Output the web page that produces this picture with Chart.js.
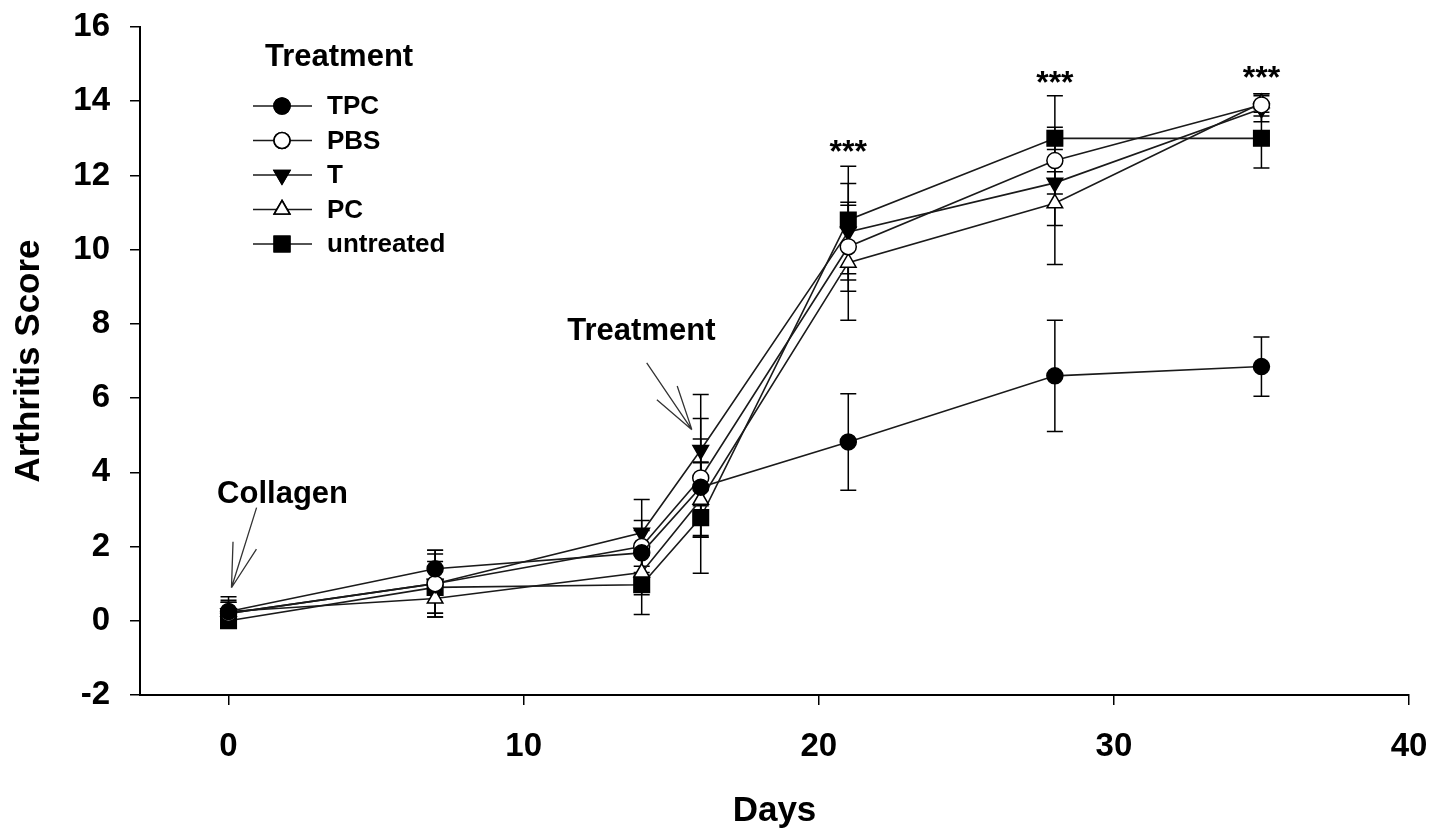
<!DOCTYPE html>
<html>
<head>
<meta charset="utf-8">
<script src="https://cdn.jsdelivr.net/npm/chart.js@4.4.0/dist/chart.umd.min.js"></script>
<style>
  html, body { margin: 0; padding: 0; background: #fff; }
  #wrap { width: 1445px; height: 832px; }
</style>
</head>
<body>
<div id="wrap"><canvas id="graphique"></canvas></div>
<script>
// ---- data ----
const days = [0, 7, 14, 16, 21, 28, 35];

const tpc       = [0.25, 1.4, 1.83, 3.6, 4.82, 6.6, 6.85];
const pbs       = [0.2, 1.0, 2.0, 3.85, 10.08, 12.4, 13.9];
const t         = [0.2, 1.0, 2.37, 4.6, 10.48, 11.8, 13.8];
const pc        = [0.25, 0.6, 1.3, 3.26, 9.65, 11.25, 13.95];
const untreated = [0.0, 0.9, 0.97, 2.78, 10.8, 13.0, 13.0];

// error bars (+/-)
const tpcErr       = [0.3, 0.5, 0.6, 1.3, 1.3, 1.5, 0.8];
const pbsErr       = [0.3, 0.8, 0.7, 1.6, 1.2, 1.75, 0.3];
const tErr         = [0.3, 0.9, 0.9, 1.5, 1.3, 0.3, 0.35];
const pcErr        = [0.4, 0.5, 0.6, 1.0, 1.55, 1.65, 0.25];
const untreatedErr = [0.2, 0.7, 0.8, 1.5, 1.45, 0.3, 0.8];

const yTicks = [-2, 0, 2, 4, 6, 8, 10, 12, 14, 16];
const xTicks = [0, 10, 20, 30, 40];

const starDays = [21, 28, 35];
const starY    = [12.6, 14.45, 14.6];

const FONT = "'Liberation Sans', Arial, sans-serif";

function pts(vals) {
  return days.map((d, i) => ({ x: d, y: vals[i] }));
}

function makeSet(label, vals, err, style, fill, radius, rotation) {
  return {
    label: label,
    data: pts(vals),
    err: err,
    borderColor: "#1a1a1a",
    borderWidth: 1.6,
    pointStyle: style,
    pointRotation: rotation || 0,
    pointRadius: radius,
    pointBackgroundColor: fill,
    pointBorderColor: "#000",
    pointBorderWidth: 1.5,
    tension: 0,
    fill: false
  };
}

// ---- error bars, drawn under the markers ----
const errorBars = {
  id: "errorBars",
  beforeDatasetsDraw(chart) {
    const ctx = chart.ctx;
    const ys = chart.scales.y;
    ctx.save();
    ctx.strokeStyle = "#000";
    ctx.lineWidth = 1.5;
    chart.data.datasets.forEach((ds, di) => {
      const meta = chart.getDatasetMeta(di);
      meta.data.forEach((p, i) => {
        const v = ds.data[i].y, e = ds.err[i];
        const y1 = ys.getPixelForValue(v + e);
        const y2 = ys.getPixelForValue(v - e);
        ctx.beginPath();
        ctx.moveTo(p.x, y1); ctx.lineTo(p.x, y2);
        ctx.moveTo(p.x - 8, y1); ctx.lineTo(p.x + 8, y1);
        ctx.moveTo(p.x - 8, y2); ctx.lineTo(p.x + 8, y2);
        ctx.stroke();
      });
    });
    ctx.restore();
  }
};

// ---- legend box with line + marker ----
const legendBox = {
  id: "legendBox",
  afterDraw(chart) {
    const ctx = chart.ctx;
    ctx.save();
    ctx.fillStyle = "#000";
    ctx.font = "bold 31px " + FONT;
    ctx.textBaseline = "middle";
    ctx.fillText("Treatment", 265, 57);
    ctx.font = "bold 26px " + FONT;
    chart.data.datasets.forEach((ds, i) => {
      const y = 106 + i * 34.5;
      ctx.strokeStyle = "#1a1a1a";
      ctx.lineWidth = 1.6;
      ctx.beginPath();
      ctx.moveTo(253, y); ctx.lineTo(312, y);
      ctx.stroke();
      ctx.fillStyle = ds.pointBackgroundColor;
      ctx.strokeStyle = "#000";
      Chart.helpers.drawPoint(ctx, {
        pointStyle: ds.pointStyle,
        rotation: ds.pointRotation,
        radius: ds.pointRadius,
        borderWidth: 1.5
      }, 282, y);
      ctx.fill();
      ctx.stroke();
      ctx.fillStyle = "#000";
      ctx.fillText(ds.label, 327, y + 1);
    });
    ctx.restore();
  }
};

// ---- annotations: arrows, labels and stars ----
function arrow(ctx, x1, y1, x2, y2) {
  const a = Math.atan2(y2 - y1, x2 - x1);
  const L = 46, spread = 0.27;
  ctx.beginPath();
  ctx.moveTo(x1, y1); ctx.lineTo(x2, y2);
  ctx.moveTo(x2, y2); ctx.lineTo(x2 - L * Math.cos(a - spread), y2 - L * Math.sin(a - spread));
  ctx.moveTo(x2, y2); ctx.lineTo(x2 - L * Math.cos(a + spread), y2 - L * Math.sin(a + spread));
  ctx.stroke();
}

const notes = {
  id: "notes",
  afterDraw(chart) {
    const ctx = chart.ctx;
    const xs = chart.scales.x, ys = chart.scales.y;
    const X = v => xs.getPixelForValue(v), Y = v => ys.getPixelForValue(v);
    ctx.save();
    ctx.fillStyle = "#000";
    ctx.strokeStyle = "#333";
    ctx.lineWidth = 1.3;
    ctx.textAlign = "center";
    ctx.textBaseline = "middle";
    ctx.font = "bold 31px " + FONT;
    ctx.fillText("Collagen", X(1.83), Y(3.4));
    ctx.fillText("Treatment", X(13.99), Y(7.8));
    arrow(ctx, X(0.95), Y(3.05), X(0.1), Y(0.89));
    arrow(ctx, X(14.17), Y(6.95), X(15.7), Y(5.15));
    ctx.font = "bold 32px " + FONT;
    starDays.forEach((d, i) => ctx.fillText("***", X(d), Y(starY[i])));
    ctx.restore();
  }
};

function createChart() {
  const ctx = document.getElementById("graphique");
  new Chart(ctx, {
    type: "line",
    data: {
      datasets: [
        makeSet("TPC", tpc, tpcErr, "circle", "#000", 8),
        makeSet("PBS", pbs, pbsErr, "circle", "#fff", 8),
        makeSet("T", t, tErr, "triangle", "#000", 9, 180),
        makeSet("PC", pc, pcErr, "triangle", "#fff", 9),
        makeSet("untreated", untreated, untreatedErr, "rect", "#000", 11)
      ]
    },
    options: {
      responsive: true,
      maintainAspectRatio: false,
      animation: false,
      layout: { padding: { top: 27, right: 36, left: 0, bottom: 0 } },
      plugins: {
        legend: { display: false },
        tooltip: { enabled: false }
      },
      scales: {
        x: {
          type: "linear",
          min: -3,
          max: 40,
          afterBuildTicks: s => { s.ticks = xTicks.map(v => ({ value: v })); },
          afterFit: s => { s.height = 137; s.paddingLeft = 0; s.paddingRight = 0; },
          ticks: { color: "#000", font: { family: FONT, size: 33, weight: "bold" }, padding: 22, maxRotation: 0 },
          grid: { drawOnChartArea: false, color: "#000", tickLength: 10, lineWidth: 1.5 },
          border: { color: "#000", width: 2 },
          title: { display: true, text: "Days", color: "#000", font: { family: FONT, size: 35, weight: "bold" }, padding: { bottom: 0 } }
        },
        y: {
          type: "linear",
          min: -2,
          max: 16,
          afterBuildTicks: s => { s.ticks = yTicks.map(v => ({ value: v })); },
          afterFit: s => { s.width = 140; s.paddingTop = 0; s.paddingBottom = 0; },
          ticks: { color: "#000", font: { family: FONT, size: 33, weight: "bold" }, padding: 20 },
          grid: { drawOnChartArea: false, color: "#000", tickLength: 10, lineWidth: 1.5 },
          border: { color: "#000", width: 2 },
          title: { display: true, text: "Arthritis Score", color: "#000", font: { family: FONT, size: 35, weight: "bold" }, padding: { top: 8 } }
        }
      }
    },
    plugins: [errorBars, legendBox, notes]
  });
}

document.addEventListener("DOMContentLoaded", createChart);
</script>
</body>
</html>
